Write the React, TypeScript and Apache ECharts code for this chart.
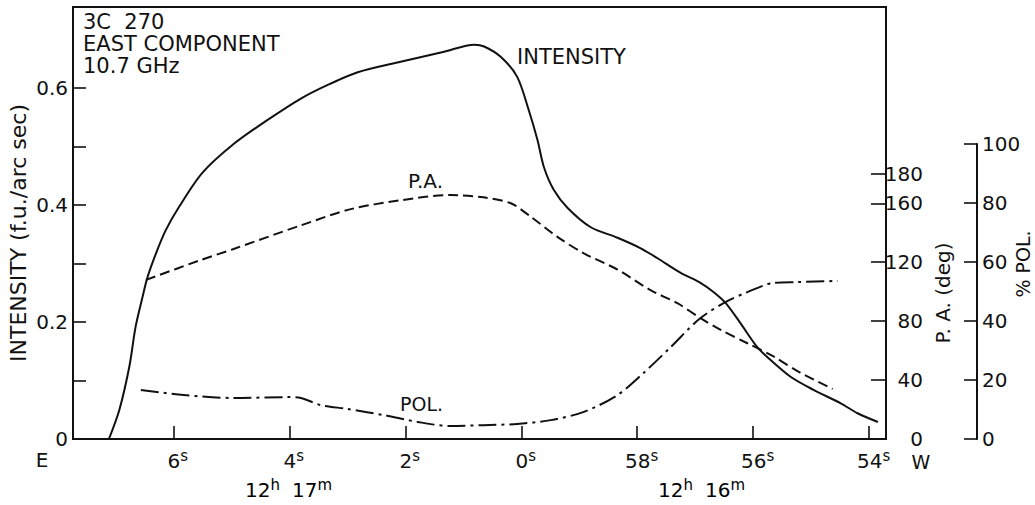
import React, { useEffect, useRef } from "react";
import * as echarts from "echarts";

const FONT = "'DejaVu Sans', 'Liberation Sans', sans-serif";
const INK = "#111";

// x values are seconds of RA relative to 12h 17m 00s (positive = earlier, to the left)
const xTicks = [6, 4, 2, 0, -2, -4, -6];
const intensityTicks = [0.1, 0.2, 0.3, 0.4, 0.5, 0.6];
const intensityLabels = [0, 0.2, 0.4, 0.6];
const paTicks = [40, 80, 120, 160, 180];
const paLabels = [0, 40, 80, 120, 160, 180];

const intensityTime = [7.11, 6.93, 6.76, 6.65, 6.53, 6.45, 6.3, 6.13, 5.9, 5.5, 4.95, 4.38, 3.8, 3.3, 2.82, 2.08, 1.33, 0.81, 0.64, 0.35, 0.07, -0.13, -0.28, -0.39, -0.56, -0.8, -1.2, -1.66, -2.06, -2.35, -2.75, -3.09, -3.32, -3.53, -3.78, -4.07, -4.3, -4.65, -5.04, -5.51, -5.8, -6.15];
const intensity = [0, 0.05, 0.123, 0.192, 0.243, 0.275, 0.317, 0.357, 0.397, 0.455, 0.505, 0.545, 0.582, 0.607, 0.627, 0.645, 0.662, 0.674, 0.671, 0.653, 0.619, 0.562, 0.511, 0.465, 0.426, 0.395, 0.362, 0.344, 0.326, 0.309, 0.284, 0.267, 0.251, 0.232, 0.198, 0.157, 0.135, 0.106, 0.084, 0.061, 0.044, 0.029];

const paTime = [6.47, 5.56, 4.96, 3.8, 2.94, 2.08, 1.22, 0.65, 0.18, -0.16, -0.63, -1.08, -1.66, -2.23, -2.7, -3.09, -3.44, -3.9, -4.35, -4.81, -5.37];
const pa = [108, 121, 129, 145, 156, 162, 165.6, 164, 160, 151, 137, 126, 115, 101, 92, 82, 74, 65, 56, 45, 34];

const polTime = [6.56, 5.82, 4.96, 4.03, 3.8, 3.46, 3.0, 2.37, 1.79, 1.22, 0.65, 0.07, -0.51, -1.08, -1.66, -2.11, -2.58, -3.06, -3.49, -3.9, -4.35, -4.77, -5.46];
const pol = [16.6, 14.9, 13.9, 14.2, 13.9, 11.5, 10.2, 8.1, 5.8, 4.4, 4.7, 5.1, 6.4, 9.2, 14.9, 22.4, 31.2, 40.5, 46.1, 49.8, 52.9, 53.2, 53.6];

const zip = (xs: number[], ys: number[]) => xs.map((x, i) => [x, ys[i]]);

const supRich = {
  n: { fontFamily: FONT, fontSize: 20, color: INK },
  s: { fontFamily: FONT, fontSize: 15, color: INK, padding: [0, 0, 10, 0] },
  g: { fontFamily: FONT, fontSize: 20, color: INK, width: 12 },
};

export default function App() {
  const ref = useRef<HTMLDivElement>(null);
  useEffect(() => {
    document.body.style.margin = "0";
    const chart = echarts.init(ref.current!, null, { renderer: "svg" });
    const axisLine = { show: true, onZero: false, lineStyle: { color: INK, width: 2 } };
    const tickStyle = { color: INK, width: 1.6 };
    chart.setOption({
      animation: false,
      backgroundColor: "#fff",
      grid: [
        { left: 73, right: 149, top: 7, bottom: 66, show: true, borderColor: INK, borderWidth: 2 },
        { left: 73, right: 149, top: 144, bottom: 66, show: false },
      ],
      xAxis: [
        {
          type: "value", gridIndex: 0, min: -6.29, max: 7.73, inverse: true,
          axisLine,
          axisTick: { show: true, inside: true, length: 13, customValues: xTicks, lineStyle: tickStyle },
          axisLabel: {
            customValues: xTicks, margin: 9,
            formatter: (v: number) => `{n|${v >= 0 ? v : 60 + v}}{s|s}`,
            rich: {
              n: { ...supRich.n, padding: [0, 0, 0, 9] },
              s: supRich.s,
            },
          },
          splitLine: { show: false },
        },
        { type: "value", gridIndex: 1, min: -6.29, max: 7.73, inverse: true, show: false },
      ],
      yAxis: [
        {
          type: "value", gridIndex: 0, min: 0, max: 0.7385, position: "left",
          axisLine,
          axisTick: { show: true, inside: true, length: 13, customValues: intensityTicks, lineStyle: tickStyle },
          axisLabel: {
            customValues: intensityLabels, margin: 5, fontFamily: FONT, fontSize: 20, color: INK,
            formatter: (v: number) => (v === 0 ? "0" : v.toFixed(1)),
          },
          splitLine: { show: false },
        },
        {
          type: "value", gridIndex: 0, min: 0, max: 293.2, position: "right",
          axisLine,
          axisTick: { show: true, inside: true, length: 15, customValues: paTicks, lineStyle: tickStyle },
          axisLabel: {
            customValues: paLabels, margin: 37, align: "right", fontFamily: FONT, fontSize: 20, color: INK,
          },
          splitLine: { show: false },
        },
        {
          type: "value", gridIndex: 1, min: 0, max: 100, interval: 20, position: "right", offset: 91,
          axisLine,
          axisTick: { show: true, inside: true, length: 13, lineStyle: tickStyle },
          axisLabel: { margin: 5, fontFamily: FONT, fontSize: 20, color: INK },
          splitLine: { show: false },
        },
      ],
      series: [
        {
          name: "INTENSITY", type: "line", xAxisIndex: 0, yAxisIndex: 0, smooth: 0.3,
          symbol: "none", data: zip(intensityTime, intensity),
          lineStyle: { color: INK, width: 2 },
        },
        {
          name: "P.A.", type: "line", xAxisIndex: 0, yAxisIndex: 1, smooth: 0.3,
          symbol: "none", data: zip(paTime, pa),
          lineStyle: { color: INK, width: 2, type: [10, 5] },
        },
        {
          name: "POL.", type: "line", xAxisIndex: 1, yAxisIndex: 2, smooth: 0.3,
          symbol: "none", data: zip(polTime, pol),
          lineStyle: { color: INK, width: 2, type: [18, 5, 3, 5] },
        },
      ],
      graphic: [
        { type: "text", x: 83, y: 11, style: { text: "3C  270", fontFamily: FONT, fontSize: 21, fill: INK } },
        { type: "text", x: 83, y: 33, style: { text: "EAST COMPONENT", fontFamily: FONT, fontSize: 21, fill: INK } },
        { type: "text", x: 83, y: 55, style: { text: "10.7 GHz", fontFamily: FONT, fontSize: 21, fill: INK } },
        { type: "text", x: 517, y: 57, style: { text: "INTENSITY", fontFamily: FONT, fontSize: 21, fill: INK, verticalAlign: "middle" } },
        { type: "text", x: 408, y: 181, style: { text: "P.A.", fontFamily: FONT, fontSize: 20, fill: INK, verticalAlign: "middle" } },
        { type: "text", x: 400, y: 404, style: { text: "POL.", fontFamily: FONT, fontSize: 19, fill: INK, verticalAlign: "middle" } },
        { type: "text", x: 18, y: 233, rotation: Math.PI / 2, style: { text: "INTENSITY (f.u./arc sec)", fontFamily: FONT, fontSize: 22, fill: INK, align: "center", verticalAlign: "middle" } },
        { type: "text", x: 943, y: 293, rotation: Math.PI / 2, style: { text: "P. A. (deg)", fontFamily: FONT, fontSize: 20, fill: INK, align: "center", verticalAlign: "middle" } },
        { type: "text", x: 1023, y: 264, rotation: Math.PI / 2, style: { text: "% POL.", fontFamily: FONT, fontSize: 19, fill: INK, align: "center", verticalAlign: "middle" } },
        { type: "text", x: 42, y: 460, style: { text: "E", fontFamily: FONT, fontSize: 20, fill: INK, align: "center", verticalAlign: "middle" } },
        { type: "text", x: 921, y: 462, style: { text: "W", fontFamily: FONT, fontSize: 19, fill: INK, align: "center", verticalAlign: "middle" } },
        { type: "text", x: 245, y: 490, style: { text: "{n|12}{s|h}{g| }{n|17}{s|m}", rich: supRich, verticalAlign: "middle" } },
        { type: "text", x: 658, y: 490, style: { text: "{n|12}{s|h}{g| }{n|16}{s|m}", rich: supRich, verticalAlign: "middle" } },
      ],
    });
    return () => chart.dispose();
  }, []);
  return <div ref={ref} style={{ width: 1035, height: 505 }} />;
}
